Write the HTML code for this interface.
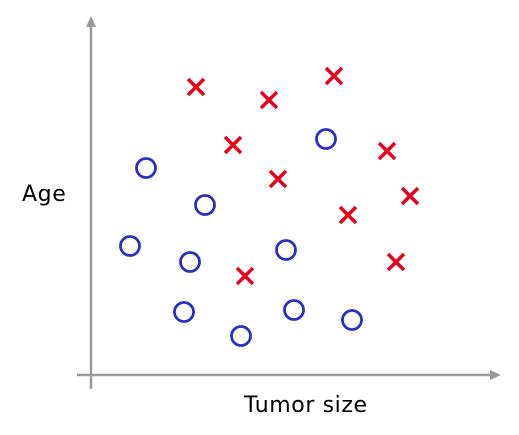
<!DOCTYPE html>
<html><head><meta charset="utf-8"><style>
html,body{margin:0;padding:0;background:#fff;}
svg{display:block;}
text{font-family:"DejaVu Sans","Liberation Sans",sans-serif;font-size:22px;letter-spacing:0.6px;fill:#000;}
</style></head><body>
<svg id="chart" width="519" height="435" viewBox="0 0 519 435" xmlns="http://www.w3.org/2000/svg">
<g>
<line x1="77" y1="375" x2="494" y2="375" stroke="#999" stroke-width="2.5"/>
<polygon points="501,375 490,370 490,380" fill="#999"/>
<line x1="91" y1="389" x2="91" y2="24" stroke="#999" stroke-width="2.5"/>
<polygon points="91,16 86,27 96,27" fill="#999"/>
</g>
<text x="22" y="201">Age</text>
<text x="244" y="412">Tumor size</text>
<g id="marks"></g>
</svg>
<script>
const malignantX = [26.25, 44.5, 60.75, 35.5, 46.75, 74, 79.75, 64.25, 76.25, 38.5];
const malignantY = [72, 68.75, 74.75, 57.5, 49, 56, 44.75, 40, 28.25, 24.75];
const benignX = [13.75, 58.75, 28.5, 9.75, 24.75, 48.75, 23.25, 50.75, 65.25, 37.5];
const benignY = [51.75, 59, 42.5, 32.25, 28.25, 31.25, 15.75, 16.25, 13.75, 9.75];
function xScale(v){return 91 + v*4;}
function yScale(v){return 375 - v*4;}
const NS = "http://www.w3.org/2000/svg";
const g = document.getElementById('marks');
malignantX.forEach(function(v,i){
  const cx = xScale(v), cy = yScale(malignantY[i]), s = 8;
  const p = document.createElementNS(NS,'path');
  
  
  p.setAttribute('d','M'+(cx-s)+' '+(cy-s)+'L'+(cx+s)+' '+(cy+s)+'M'+(cx+s)+' '+(cy-s)+'L'+(cx-s)+' '+(cy+s));
  p.setAttribute('stroke','#e8001c');
  p.setAttribute('stroke-width','3.5');
  g.appendChild(p);
});
benignX.forEach(function(v,i){
  const c = document.createElementNS(NS,'circle');
  
  
  c.setAttribute('cx', xScale(v));
  c.setAttribute('cy', yScale(benignY[i]));
  c.setAttribute('r', 9.5);
  c.setAttribute('fill','none');
  c.setAttribute('stroke','#2f2fbf');
  c.setAttribute('stroke-width','2.8');
  g.appendChild(c);
});
</script>
</body></html>
